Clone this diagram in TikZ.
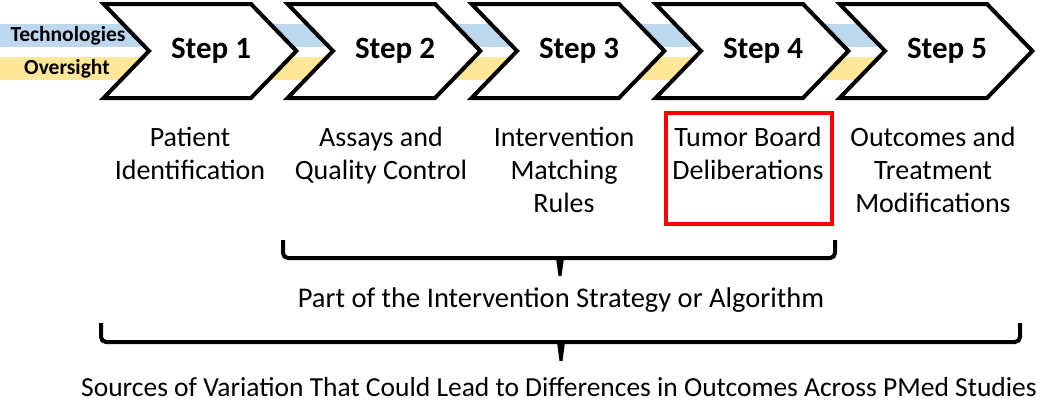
\documentclass[tikz,border=0pt]{standalone}
\usepackage{fontspec}
\setmainfont{Carlito}
\usetikzlibrary{positioning, shapes.symbols}
\definecolor{techblue}{HTML}{BDD7EE}
\definecolor{overyellow}{HTML}{FFE699}
\definecolor{boxred}{HTML}{FF0000}

\begin{document}
\begin{tikzpicture}[x = 1pt, y = -1pt, chevron/.style={signal, signal from = west, signal to = east, signal pointer angle = 92, draw, line width = 4pt, fill = white, minimum width = 182pt, minimum height = 94pt, inner sep = 0pt, execute at begin node = \hspace*{22pt}, font = \fontsize{31}{36}\selectfont\bfseries}, lbl/.style={align = center, anchor = north, inner sep = 0pt, font = \fontsize{28}{33}\selectfont}, band/.style={inner sep = 0pt, font = \fontsize{21.5}{24}\selectfont\bfseries}, brace/.style={line width = 4pt, rounded corners = 5pt}]
  \useasboundingbox (0,0) rectangle (1050,402);

  % bands
  \fill [techblue] (0,24) rectangle (900,47);
  \fill [overyellow] (0,57) rectangle (900,80);
  \node [band] (tech) at (68,35.5) {Technologies};
  \node [band] (over) at (67,68.5) {Oversight};

  % steps
  \node [chevron] (step1) at (200,51) {Step 1};
  \node [chevron] (step2) at (384,51) {Step 2};
  \node [chevron] (step3) at (568,51) {Step 3};
  \node [chevron] (step4) at (752,51) {Step 4};
  \node [chevron] (step5) at (936,51) {Step 5};

  % labels
  \node [lbl] (lab1) at (190,127) {Patient\\Identification};
  \node [lbl] (lab2) at (381,127) {Assays and\\Quality Control};
  \node [lbl] (lab3) at (564,127) {Intervention\\Matching\\Rules};
  \node [lbl] (lab4) at (748,127) {Tumor Board\\Deliberations};
  \node [lbl] (lab5) at (933,127) {Outcomes and\\Treatment\\Modifications};
  \node [draw = boxred, line width = 4pt, minimum width = 166pt, minimum height = 111pt, inner sep = 0pt] (redbox) at (748.5,168.5) {};

  % braces
  \coordinate (b1l) at (283,240);
  \coordinate (b1r) at (835,240);
  \coordinate (b1m) at (560,258);
  \draw [brace] (b1l) |- (b1m) -| (b1r);
  \fill (b1m) ++(-4,0) -- ++(8,0) -- ++(-2.5,18) -- ++(-3,0) -- cycle;
  \node [lbl, anchor = center, font = \fontsize{28.5}{33}\selectfont] (part) at (561,300) {Part of the Intervention Strategy or Algorithm};

  \coordinate (b2l) at (101,323);
  \coordinate (b2r) at (1020,323);
  \coordinate (b2m) at (561,342);
  \draw [brace] (b2l) |- (b2m) -| (b2r);
  \fill (b2m) ++(-4,0) -- ++(8,0) -- ++(-2.5,19) -- ++(-3,0) -- cycle;
  \node [lbl, anchor = center, font = \fontsize{27.5}{33}\selectfont] (sources) at (559,387) {Sources of Variation That Could Lead to Differences in Outcomes Across PMed Studies};
\end{tikzpicture}
\end{document}
